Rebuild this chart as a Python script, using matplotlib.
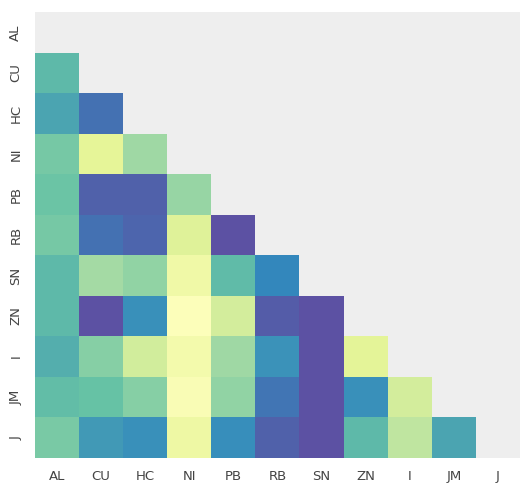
import numpy as np
import pandas as pd
import matplotlib
matplotlib.use("Agg")
import matplotlib.pyplot as plt
import seaborn as sns

labels = ["AL", "CU", "HC", "NI", "PB", "RB", "SN", "ZN", "I", "JM", "J"]

# lower triangle of the correlation matrix, row by row (below the diagonal)
row_CU = [0.63]
row_HC = [0.70, 0.88]
row_NI = [0.55, 0.20, 0.43]
row_PB = [0.58, 0.93, 0.93, 0.46]
row_RB = [0.55, 0.88, 0.92, 0.22, 0.99]
row_SN = [0.63, 0.42, 0.47, 0.12, 0.62, 0.80]
row_ZN = [0.63, 0.99, 0.77, 0.03, 0.26, 0.95, 0.99]
row_I = [0.67, 0.50, 0.27, 0.10, 0.43, 0.76, 0.99, 0.21]
row_JM = [0.61, 0.60, 0.50, 0.05, 0.47, 0.86, 0.99, 0.77, 0.26]
row_J = [0.54, 0.74, 0.77, 0.14, 0.78, 0.93, 0.99, 0.63, 0.33, 0.70]

rows = [[], row_CU, row_HC, row_NI, row_PB, row_RB, row_SN, row_ZN, row_I, row_JM, row_J]

n = len(labels)
corr = np.eye(n)
for i, r in enumerate(rows):
    for j, v in enumerate(r):
        corr[i, j] = v
        corr[j, i] = v
corr = pd.DataFrame(corr, index=labels, columns=labels)

mask = np.triu(np.ones_like(corr, dtype=bool))

fig = plt.figure(figsize=(5.2, 4.83), dpi=100)
ax = fig.add_axes([0.067, 0.052, 0.933, 0.923])
ax.set_facecolor("#eeeeee")

sns.heatmap(corr, mask=mask, cmap="Spectral", vmin=-1, vmax=1, cbar=False, ax=ax)

ax.tick_params(axis="x", length=0, colors="#444444", labelsize=9.5, pad=9)
ax.tick_params(axis="y", length=0, colors="#444444", labelsize=9.5, pad=9)
ax.set_yticklabels(labels, rotation=90, va="center")
ax.set_xticklabels(labels, rotation=0)
for s in ax.spines.values():
    s.set_visible(False)

plt.savefig("out.png", dpi=100)
